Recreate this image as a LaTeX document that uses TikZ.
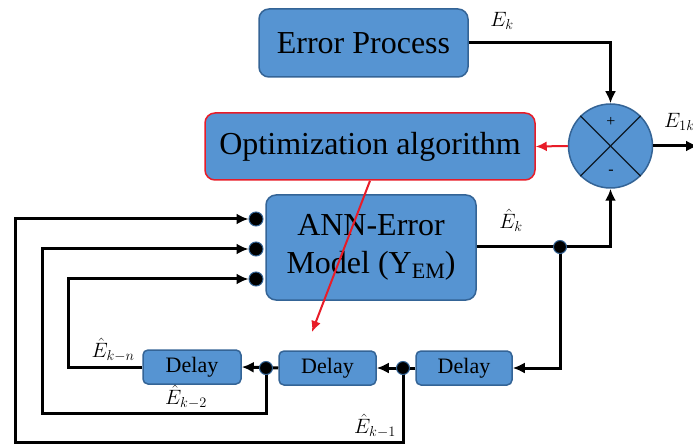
\documentclass[tikz,border=0pt]{standalone}
\usepackage{fontspec}
\setmainfont{Liberation Serif}
\usetikzlibrary{arrows.meta}
\definecolor{boxfill}{RGB}{86,148,210}
\definecolor{boxline}{RGB}{52,100,150}
\definecolor{redline}{RGB}{232,28,40}
\begin{document}
\begin{tikzpicture}[x=1pt,y=-1pt,
  blk/.style={draw=boxline, line width=1.5pt, fill=boxfill, rounded corners=10pt,
    inner sep=0pt, align=center, font=\fontsize{32}{38}\selectfont},
  redblk/.style={blk, draw=redline},
  dly/.style={blk, rounded corners=5pt, font=\fontsize{22}{24}\selectfont},
  wire/.style={line width=3pt, black},
  arr/.style={wire, -{Latex[length=12pt,width=11pt]}},
  redarr/.style={line width=2pt, redline, -{Latex[length=11pt,width=10pt]}},
  jdot/.style={circle, fill=black, draw=boxline, line width=1pt, minimum size=13pt, inner sep=0pt},
  idot/.style={circle, fill=black, draw=boxline, line width=1pt, minimum size=14pt, inner sep=0pt},
  lbl/.style={font=\fontsize{21}{24}\selectfont, inner sep=0pt},
  sgn/.style={font=\fontsize{16}{16}\selectfont, inner sep=0pt}
]
\useasboundingbox (0,0) rectangle (693,446);
% blocks
\node[blk, minimum width=209pt, minimum height=68pt] (ep) at (363.5,43) {Error Process};
\node[redblk, minimum width=330pt, minimum height=67pt] (opt) at (370,146.5) {Optimization algorithm};
\node[blk, minimum width=210pt, minimum height=105pt] (ann) at (371,247.5)
  {ANN-Error\\Model (Y\raisebox{-0.3ex}{\fontsize{22}{22}\selectfont EM})};
\node[dly, minimum width=96pt, minimum height=34pt] (d1) at (464,368) {Delay};
\node[dly, minimum width=97pt, minimum height=34pt] (d2) at (327.5,368) {Delay};
\node[dly, minimum width=98pt, minimum height=34pt] (d3) at (192,367) {Delay};
% summing junction
\node[circle, draw=boxline, fill=boxfill, line width=1.5pt, minimum size=84pt, inner sep=0pt] (sum) at (610.5,146) {};
\draw[line width=1.3pt, black!75!boxline] (sum.45) -- (sum.225);
\draw[line width=1.3pt, black!75!boxline] (sum.135) -- (sum.315);
\node[sgn] (plus) at (611,122) {+};
\node[sgn] (minus) at (611,172) {-};
% input dots
\node[idot] (in1) at (256,219) {};
\node[idot] (in2) at (256,249) {};
\node[idot] (in3) at (256,279) {};
% junction coordinates
\coordinate (j0) at (560,247);
\coordinate (j1) at (403,368);
\coordinate (j2) at (266,368);
\coordinate (out) at (698,146);
\coordinate (rt) at (312,332);
% wires
\draw[arr] (ep.east) -| (sum.north);
\draw[arr] (sum.east) -- (out);
\draw[redarr] (sum.west) -- (opt.east);
\draw[redarr] (opt.south) -- (rt);
\draw[wire] (ann.east |- j0) -- (j0);
\draw[arr] (j0) -| (sum.south);
\draw[arr] (j0) |- (d1.east);
\draw[arr] (d1.west) -- (d2.east);
\draw[arr] (d2.west) -- (d3.east);
\draw[arr] (d3.west) -- (68,367) |- (in3.west);
\draw[arr] (j2) -- (266,413) -- (42,413) |- (in2.west);
\draw[arr] (j1) -- (403,442) -- (15,442) |- (in1.west);
% junction dots
\node[jdot] (dj0) at (j0) {};
\node[jdot] (dj1) at (j1) {};
\node[jdot] (dj2) at (j2) {};
% labels
\node[lbl] (lEk) at (502,21) {$E_k$};
\node[lbl, anchor=west] (lE1k) at (664,122) {$E_{1k}$};
\node[lbl] (lEhk) at (511,220) {$\hat{E}_k$};
\node[lbl] (lEkn) at (113,350) {$\hat{E}_{k-n}$};
\node[lbl] (lEk2) at (186,397) {$\hat{E}_{k-2}$};
\node[lbl] (lEk1) at (375,426) {$\hat{E}_{k-1}$};
\end{tikzpicture}
\end{document}
